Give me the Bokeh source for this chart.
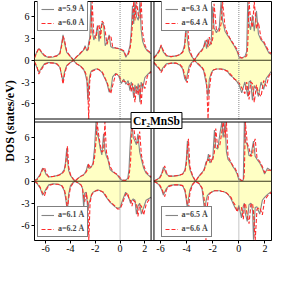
from bokeh.plotting import figure
from bokeh.models import Label, Legend, LegendItem, FixedTicker, Range1d
from bokeh.embed import file_html
from bokeh.resources import INLINE

# ---------------- data (8.1 = runs off the panel) ----------------
# panel a=5.9 / 6.0
e_59 = [-6.9,-6.7,-6.55,-6.35,-6.1,-5.8,-5.4,-5.1,-4.85,-4.72,-4.6,-4.48,-4.3,-4.0,-3.75,-3.5,-3.2,-2.95,-2.82,-2.68,
        -2.6,-2.53,-2.45,-2.35,-2.25,-2.12,-1.95,-1.82,-1.7,-1.57,-1.45,-1.32,-1.2,-1.05,-0.88,-0.75,-0.6,-0.35,-0.1,0.1,
        0.3,0.47,0.65,0.8,0.9,1.0,1.1,1.2,1.33,1.47,1.6,1.7,1.82,2.0,2.2,2.5]
up_59 = [0.4,1.2,1.6,1.1,0.6,0.4,0.45,0.6,1.0,2.2,3.5,2.4,1.1,0.5,0.05,0.5,0.9,1.4,2.0,1.3,
         1.5,2.5,3.0,8.1,4.2,2.8,3.5,4.8,2.6,4.4,5.2,4.8,2.0,2.5,3.5,1.9,1.7,1.7,1.6,1.4,
         1.2,0.4,1.0,2.0,4.0,7.5,5.0,8.1,6.0,5.5,8.1,4.2,2.6,1.8,1.3,0.9]
up_60 = [0.3,1.1,1.7,1.2,0.7,0.45,0.5,0.6,0.9,1.9,3.3,2.8,1.2,0.5,0.0,0.5,1.0,1.4,1.8,1.6,
         1.4,1.8,2.6,3.5,8.1,3.6,3.0,4.5,4.9,3.0,5.4,5.1,4.0,2.2,3.2,3.4,1.9,1.7,1.6,1.5,
         1.3,0.6,0.8,1.5,2.8,5.0,8.1,5.5,8.1,6.2,5.8,8.1,3.8,2.1,1.4,1.0]
dn_59 = [-0.3,-1.0,-1.7,-1.1,-0.5,-0.3,-0.35,-0.5,-1.0,-2.0,-2.9,-1.6,-0.7,-0.3,-0.05,-0.5,-0.8,-1.2,-1.8,-2.8,
         -5.5,-3.5,-2.2,-1.6,-1.4,-1.3,-1.2,-1.2,-1.3,-1.5,-1.7,-2.2,-2.6,-3.2,-4.4,-4.2,-2.3,-1.8,-2.2,-3.2,
         -2.6,-3.3,-2.8,-4.2,-3.0,-3.6,-5.2,-3.4,-4.6,-3.2,-5.8,-3.0,-3.9,-2.4,-2.0,-1.5]
dn_60 = [-0.2,-0.9,-1.9,-1.3,-0.6,-0.35,-0.4,-0.5,-0.9,-2.1,-3.3,-2.0,-0.8,-0.3,0.0,-0.5,-0.8,-1.3,-1.6,-2.2,
         -4.0,-8.1,-3.0,-1.8,-1.5,-1.4,-1.3,-1.2,-1.3,-1.5,-1.6,-2.0,-2.5,-3.0,-4.0,-4.6,-3.5,-1.9,-2.0,-2.8,
         -2.9,-3.0,-3.4,-3.2,-4.3,-3.2,-4.0,-5.8,-3.6,-4.8,-3.4,-6.2,-3.2,-3.9,-2.2,-1.6]

# panel a=6.3 / 6.4
e_63 = [-6.5,-6.3,-6.1,-5.95,-5.8,-5.55,-5.2,-4.8,-4.5,-4.3,-4.15,-4.03,-3.95,-3.8,-3.6,-3.4,-3.1,-2.85,-2.7,-2.58,
        -2.47,-2.36,-2.26,-2.12,-2.0,-1.9,-1.72,-1.5,-1.36,-1.25,-1.06,-0.85,-0.7,-0.5,-0.36,-0.13,0.04,0.22,0.46,0.6,
        0.68,0.78,0.9,1.04,1.18,1.35,1.5,1.7,1.9,2.1,2.3,2.5]
up_63 = [0.4,0.8,1.4,2.0,1.2,0.6,0.5,0.6,0.8,1.2,2.2,5.3,3.0,1.2,0.5,0.0,0.9,1.4,1.8,2.7,
         1.6,3.0,2.0,2.4,7.4,4.5,3.8,4.5,8.1,5.5,4.0,3.4,3.0,2.4,2.0,1.2,0.3,0.3,0.5,1.2,
         8.1,5.0,4.2,6.2,4.0,6.8,3.6,2.8,2.4,1.7,1.0,0.8]
up_64 = [0.3,0.7,1.2,2.1,1.4,0.7,0.5,0.6,0.8,1.1,1.8,4.5,5.8,1.6,0.6,0.05,0.8,1.3,1.7,2.4,
         2.8,1.8,3.2,2.2,3.0,7.8,4.2,4.0,5.0,8.1,4.6,3.6,3.1,2.5,2.1,1.5,0.5,0.3,0.4,0.6,
         2.0,8.1,5.5,4.5,8.1,4.4,5.2,3.0,2.6,1.9,1.2,0.9]
dn_63 = [-0.4,-0.8,-1.2,-1.5,-1.0,-0.5,-0.4,-0.4,-0.7,-1.2,-2.5,-2.9,-2.0,-0.8,-0.3,0.0,-0.6,-1.0,-1.4,-2.5,
         -3.5,-5.0,-2.6,-1.8,-1.4,-1.3,-1.2,-1.2,-1.2,-1.2,-1.3,-1.6,-2.0,-2.3,-2.5,-3.0,-3.5,-4.5,-3.0,-4.2,
         -5.0,-3.0,-2.8,-5.5,-3.5,-4.0,-5.0,-3.0,-4.0,-2.5,-2.0,-1.5]
dn_64 = [-0.3,-0.7,-1.1,-1.7,-1.2,-0.6,-0.4,-0.4,-0.6,-1.0,-2.0,-2.7,-3.1,-1.2,-0.4,-0.05,-0.5,-0.9,-1.3,-2.0,
         -3.0,-8.1,-4.0,-2.0,-1.5,-1.3,-1.2,-1.2,-1.2,-1.3,-1.4,-1.5,-1.8,-2.2,-2.6,-2.8,-3.2,-3.8,-4.6,-3.0,
         -4.0,-5.4,-3.0,-3.2,-5.8,-3.4,-4.5,-5.0,-2.8,-3.6,-2.2,-1.6]

# panel a=6.1 / 6.2
e_61 = [-6.9,-6.7,-6.45,-6.25,-6.1,-5.95,-5.75,-5.4,-5.0,-4.7,-4.5,-4.4,-4.3,-4.24,-4.15,-4.0,-3.8,-3.63,-3.4,-3.15,
        -3.03,-2.93,-2.85,-2.72,-2.6,-2.52,-2.42,-2.3,-2.18,-2.06,-1.94,-1.85,-1.75,-1.6,-1.47,-1.33,-1.22,-1.1,-0.98,-0.8,
        -0.6,-0.4,-0.2,0.0,0.2,0.45,0.62,0.72,0.84,0.96,1.06,1.2,1.32,1.44,1.58,1.72,1.9,2.1,2.3,2.5]
up_61 = [0.1,0.3,0.9,1.8,1.5,0.9,0.6,0.65,0.8,1.1,1.6,2.6,4.5,3.0,1.5,0.8,0.3,0.0,0.4,0.7,
         0.8,0.9,1.1,1.5,2.3,1.8,1.8,2.0,2.5,4.5,8.1,6.5,6.0,4.5,3.6,6.5,4.2,3.4,3.0,1.6,
         1.3,1.1,0.8,0.3,0.1,0.15,0.4,1.6,6.0,8.1,6.0,5.5,5.0,6.5,4.0,3.0,1.8,1.1,0.8,0.5]
up_62 = [0.1,0.2,0.8,1.6,1.9,1.1,0.6,0.65,0.8,1.0,1.4,2.2,3.6,4.8,2.0,0.9,0.4,0.0,0.4,0.7,
         0.8,0.9,1.0,1.3,1.8,2.4,1.9,2.0,2.3,3.2,5.5,8.1,6.6,5.0,4.0,4.2,8.1,4.0,3.2,2.0,
         1.4,1.1,0.9,0.5,0.15,0.1,0.2,0.6,2.5,7.0,8.1,6.0,5.4,5.2,6.8,3.6,2.2,1.3,0.9,0.6]
dn_61 = [-0.05,-0.3,-0.9,-1.9,-1.5,-1.0,-0.5,-0.35,-0.4,-0.6,-1.3,-2.2,-3.5,-4.0,-1.8,-0.6,-0.2,0.0,-0.2,-0.5,
         -1.0,-3.7,-1.6,-1.5,-4.0,-3.0,-2.6,-1.8,-1.5,-1.4,-1.3,-1.2,-1.2,-1.3,-1.4,-1.6,-1.9,-2.2,-2.5,-2.9,
         -3.2,-3.5,-3.7,-3.6,-2.6,-1.5,-2.0,-2.3,-3.0,-2.6,-2.4,-2.6,-4.5,-3.4,-3.0,-4.5,-3.6,-2.6,-2.4,-2.2]
dn_62 = [-0.05,-0.2,-0.8,-1.6,-2.0,-1.2,-0.6,-0.4,-0.4,-0.6,-1.1,-1.8,-3.0,-3.8,-2.4,-0.8,-0.3,0.0,-0.2,-0.5,
         -0.9,-2.2,-2.8,-1.6,-3.0,-8.1,-3.0,-1.9,-1.6,-1.4,-1.3,-1.3,-1.2,-1.3,-1.4,-1.5,-1.8,-2.1,-2.4,-2.8,
         -3.1,-3.4,-3.8,-3.8,-3.0,-1.8,-1.6,-2.4,-2.6,-3.4,-2.6,-2.8,-3.0,-4.8,-3.2,-3.4,-4.6,-3.2,-2.6,-2.3]

# panel a=6.5 / 6.6
e_65 = [-6.5,-6.3,-6.07,-5.9,-5.78,-5.68,-5.55,-5.35,-5.0,-4.6,-4.3,-4.12,-4.02,-3.94,-3.86,-3.75,-3.55,-3.32,-3.05,-2.82,
        -2.69,-2.6,-2.52,-2.42,-2.33,-2.22,-2.1,-1.99,-1.87,-1.77,-1.62,-1.45,-1.3,-1.2,-1.06,-0.95,-0.83,-0.6,-0.45,-0.3,
        -0.13,0.0,0.2,0.34,0.42,0.5,0.64,0.78,0.92,1.05,1.12,1.25,1.39,1.6,1.8,1.97,2.2,2.5]
up_65 = [0.05,0.2,0.5,1.1,1.9,1.6,1.0,0.7,0.7,0.8,1.0,1.6,3.0,5.5,3.0,1.6,0.7,0.0,0.7,1.2,
         1.5,2.0,2.6,2.8,3.7,2.5,2.8,3.3,7.0,4.6,4.4,6.5,8.1,6.0,8.1,4.0,3.0,2.5,2.0,1.6,
         1.0,0.2,0.1,0.15,8.1,5.5,5.0,3.5,3.5,4.8,5.5,3.4,3.0,2.5,1.8,1.0,1.8,1.4]
up_66 = [0.05,0.2,0.4,0.9,1.6,2.1,1.2,0.7,0.7,0.8,1.0,1.4,2.4,4.4,5.8,2.0,0.8,0.0,0.7,1.1,
         1.4,1.8,2.2,3.0,2.8,3.6,2.6,3.0,4.0,7.2,4.6,5.0,6.8,8.1,6.0,8.1,3.4,2.6,2.1,1.8,
         1.2,0.4,0.1,0.1,1.0,8.1,5.2,4.5,3.4,3.6,5.0,5.8,3.2,2.7,2.0,1.2,1.5,1.5]
dn_65 = [-0.05,-0.2,-0.6,-1.2,-1.9,-1.5,-1.0,-0.6,-0.5,-0.5,-0.6,-1.4,-2.6,-3.8,-2.4,-1.2,-0.4,0.0,-0.3,-1.0,
         -3.0,-4.5,-2.8,-2.0,-1.8,-1.6,-1.5,-1.4,-1.3,-1.3,-1.3,-1.3,-1.4,-1.4,-1.5,-1.6,-1.8,-2.4,-3.0,-3.6,
         -4.0,-3.3,-5.0,-3.4,-3.0,-4.4,-5.5,-3.2,-3.0,-4.0,-8.0,-3.6,-3.5,-4.5,-2.6,-2.2,-1.8,-1.4]
dn_66 = [-0.05,-0.2,-0.5,-1.0,-1.6,-2.1,-1.2,-0.7,-0.5,-0.5,-0.6,-1.2,-2.2,-3.2,-4.0,-1.6,-0.5,0.0,-0.3,-0.9,
         -2.0,-3.2,-8.1,-3.6,-2.0,-1.7,-1.5,-1.4,-1.3,-1.3,-1.3,-1.3,-1.4,-1.4,-1.5,-1.6,-1.8,-2.2,-2.8,-3.2,
         -4.2,-3.6,-3.6,-5.2,-3.2,-3.0,-4.6,-5.8,-3.2,-3.0,-4.2,-8.1,-3.8,-3.6,-4.6,-2.6,-2.0,-1.5]

x_ticks = [-6, -4, -2, 0, 2]
y_ticks = [-6, -3, 0, 3, 6]
compound = "Cr\u2082MnSb"
y_title = "DOS (states/eV)"
x_title = "E (eV)"

# ---------------- layout / style ----------------
FONT = "Liberation Serif"
YELLOW = "#ffffc4"
GRAY = "#858585"
RED = "#ff2a2a"
ZERO = "#3a3a1a"

WIDTH, HEIGHT = 273, 269
BL_, BR_, BT_, BB_ = 26, 2, 1, 29          # canvas borders around the frame
FW, FH = WIDTH - BL_ - BR_, HEIGHT - BT_ - BB_
GAP = 3
PWL = 120.5                 # left-column panel width (px)
PWR = FW - PWL - GAP        # right-column panel width
PHT = 117.5                 # top-row panel height
PHB = FH - PHT - GAP        # bottom-row panel height

XL = (-6.9, 2.5)      # energy window of the left panels
XR = (-6.5, 2.5)      # energy window of the right panels
YW = (-8.1, 8.1)      # DOS window of every panel

s_l = (XL[1] - XL[0]) / PWL
s_r = (XR[1] - XR[0]) / PWR
s_t = (YW[1] - YW[0]) / PHT
s_b = (YW[1] - YW[0]) / PHB

x_left = Range1d(XL[0], XL[0] + FW * s_l)
x_right = Range1d(XR[0] - (PWL + GAP) * s_r, XR[1])
y_top = Range1d(YW[1] - FH * s_t, YW[1])
y_bot = Range1d(YW[0], YW[0] + FH * s_b)

p = figure(width=WIDTH, height=HEIGHT, output_backend="svg", toolbar_location=None,
           x_range=x_left, y_range=y_top,
           min_border_left=BL_, min_border_right=BR_, min_border_top=BT_, min_border_bottom=BB_)
p.extra_x_ranges = {"xr": x_right}
p.extra_y_ranges = {"yb": y_bot}
p.grid.visible = False
p.outline_line_color = "black"
p.outline_line_width = 1


def draw_panel(E, gu, ru, gd, rd, names, xname, yname, xlim, leg_xy):
    kw = dict(x_range_name=xname, y_range_name=yname)
    p.varea(x=E, y1=0, y2=gu, fill_color=YELLOW, **kw)
    p.varea(x=E, y1=0, y2=gd, fill_color=YELLOW, **kw)
    g = p.line(E, gu, line_color=GRAY, line_width=1.1, **kw)
    p.line(E, gd, line_color=GRAY, line_width=1.1, **kw)
    r = p.line(E, ru, line_color=RED, line_width=1.1, line_dash="4 2", **kw)
    p.line(E, rd, line_color=RED, line_width=1.1, line_dash="4 2", **kw)
    # zero line, Fermi level, panel frame
    p.segment(x0=[xlim[0]], x1=[xlim[1]], y0=[0], y1=[0], line_color=ZERO, line_width=1, **kw)
    p.segment(x0=[0], x1=[0], y0=[YW[0]], y1=[YW[1]], line_color="#8a8a8a", line_width=1, line_dash="1 1", **kw)
    p.quad(left=[xlim[0]], right=[xlim[1]], bottom=[YW[0]], top=[YW[1]],
           fill_color=None, line_color="black", line_width=1, **kw)
    leg = Legend(items=[LegendItem(label=names[0], renderers=[g]),
                        LegendItem(label=names[1], renderers=[r])],
                 location=leg_xy, border_line_color="black", border_line_width=1,
                 background_fill_color="white", background_fill_alpha=1,
                 label_text_font=FONT, label_text_font_style="bold", label_text_font_size="8px",
                 glyph_width=13, glyph_height=8, label_height=8, label_standoff=4,
                 spacing=5, padding=3, margin=0)
    p.add_layout(leg)


LEG_H = 27
draw_panel(e_59, up_59, up_60, dn_59, dn_60, ["a=5.9 Å", "a=6.0 Å"], "default", "default", XL,
           (3, FH - 3 - LEG_H))
draw_panel(e_63, up_63, up_64, dn_63, dn_64, ["a=6.3 Å", "a=6.4 Å"], "xr", "default", XR,
           (PWL + GAP + 3, FH - 3 - LEG_H))
draw_panel(e_61, up_61, up_62, dn_61, dn_62, ["a=6.1 Å", "a=6.2 Å"], "default", "yb", XL,
           (3, 3))
draw_panel(e_65, up_65, up_66, dn_65, dn_66, ["a=6.5 Å", "a=6.6 Å"], "xr", "yb", XR,
           (PWL + GAP + 3, 3))

# ---- axes: left axis carries both rows' ticks, bottom axis both columns' ticks ----
def r4(v):
    return round(v, 4)

xt, xlab = [], {}
for t in x_ticks:                       # lower-left panel
    xt.append(r4(t)); xlab[r4(t)] = str(t)
for t in x_ticks:                       # lower-right panel, placed through its own scale
    px = (PWL + GAP) + (t - XR[0]) / s_r
    v = r4(XL[0] + px * s_l)
    xt.append(v); xlab[v] = str(t)
yt, ylab = [], {}
for t in y_ticks:                       # upper panels
    yt.append(r4(t)); ylab[r4(t)] = str(t)
for t in y_ticks:                       # lower panels
    pxt = (PHT + GAP) + (YW[1] - t) / s_b
    v = r4(YW[1] - pxt * s_t)
    yt.append(v); ylab[v] = str(t)

xa, ya = p.xaxis[0], p.yaxis[0]
xa.ticker = FixedTicker(ticks=xt, minor_ticks=[])
xa.major_label_overrides = xlab
ya.ticker = FixedTicker(ticks=yt, minor_ticks=[])
ya.major_label_overrides = ylab
ya.axis_label = y_title
for ax in (xa, ya):
    ax.axis_line_color = None
    ax.major_tick_out = 3
    ax.major_tick_in = 0
    ax.major_tick_line_color = "black"
    ax.minor_tick_line_color = None
    ax.major_label_text_font = FONT
    ax.major_label_text_font_size = "10px"
    ax.major_label_text_color = "black"
    ax.axis_label_text_font = FONT
    ax.axis_label_text_font_style = "bold"
    ax.axis_label_text_font_size = "12px"
    ax.axis_label_text_color = "black"
xa.major_label_standoff = 1
ya.major_label_standoff = 2
ya.axis_label_standoff = 1

for xname, xlim in (("default", XL), ("xr", XR)):
    p.add_layout(Label(x=(xlim[0] + xlim[1]) / 2, y=-15, x_range_name=xname, y_units="screen",
                       text=x_title, text_align="center", text_baseline="top",
                       text_font=FONT, text_font_style="bold", text_font_size="12px",
                       text_color="black"))

p.add_layout(Label(x=PWL + GAP / 2, y=FH - (PHT + GAP / 2), x_units="screen", y_units="screen",
                   text=compound, text_align="center", text_baseline="middle",
                   text_font=FONT, text_font_style="bold", text_font_size="11.5px",
                   text_color="black", background_fill_color="white",
                   border_line_color="black", border_line_width=1, padding=2, level="overlay"))

open("out.html", "w").write(file_html(p, INLINE))
